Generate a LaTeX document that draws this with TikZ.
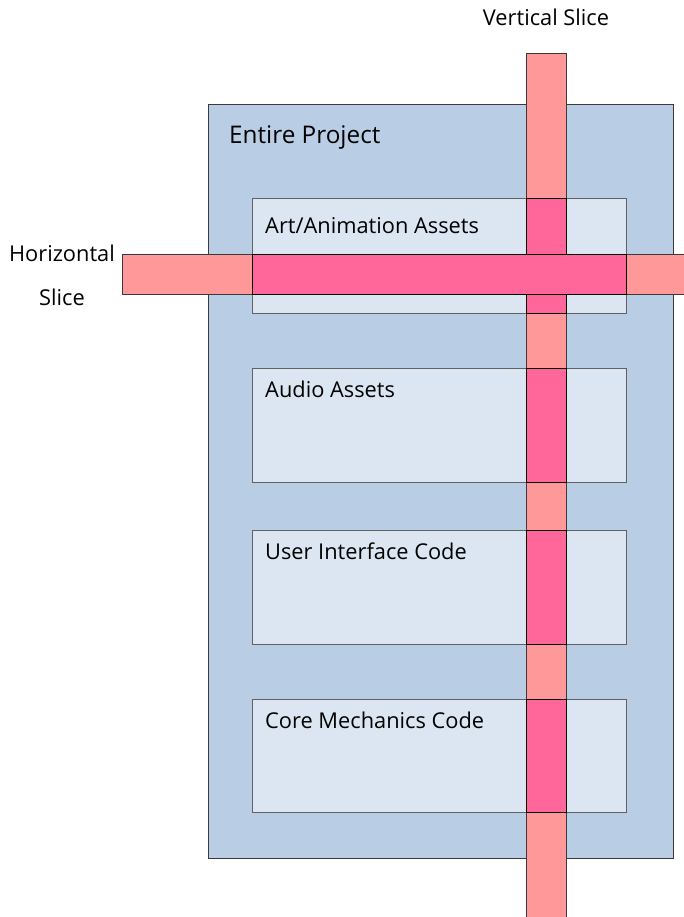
\documentclass[tikz,border=0pt]{standalone}
\usepackage{fontspec}
\setmainfont{Open Sans}
\definecolor{outerblue}{HTML}{B9CDE5}
\definecolor{innerblue}{HTML}{DCE6F2}
\definecolor{salmon}{HTML}{FF9999}
\definecolor{hotpink}{HTML}{FF6699}
\definecolor{edge}{HTML}{3A3A3A}
\tikzset{
  outerbox/.style={draw=edge, fill=outerblue, line width=0.9pt},
  innerbox/.style={draw=edge!80, fill=innerblue, line width=0.9pt},
  slicebar/.style={draw=edge, fill=salmon, line width=0.8pt},
  overlap/.style={draw=black, fill=hotpink, line width=0.8pt},
  lbl/.style={font=\fontsize{21.8}{26}\selectfont, text=black, inner sep=0pt},
}
\begin{document}
\begin{tikzpicture}[x=1pt,y=-1pt]
\useasboundingbox (0,0) rectangle (684,917);
% outer project
\draw[outerbox] (208,104) rectangle (673,858);
\node[lbl, anchor=west, font=\fontsize{24.3}{29}\selectfont] (entire) at (229,138) {Entire Project};
% inner boxes
\draw[innerbox] (252,198) rectangle (626,313);
\draw[innerbox] (252,368) rectangle (626,482);
\draw[innerbox] (252,530) rectangle (626,644);
\draw[innerbox] (252,699) rectangle (626,812);
% vertical slice
\draw[slicebar] (526,53) rectangle (566,920);
\draw[overlap] (526,198) rectangle (566,313);
\draw[overlap] (526,368) rectangle (566,482);
\draw[overlap] (526,530) rectangle (566,644);
\draw[overlap] (526,699) rectangle (566,812);
% horizontal slice
\draw[slicebar] (122,254) rectangle (688,294);
\draw[overlap] (252,254) rectangle (626,294);
% labels
\node[lbl, anchor=west] (art) at (265,226) {Art/Animation Assets};
\node[lbl, anchor=west] (audio) at (265,389) {Audio Assets};
\node[lbl, anchor=west] (ui) at (265,551) {User Interface Code};
\node[lbl, anchor=west] (core) at (265,720) {Core Mechanics Code};
\node[lbl] (vs) at (546,17) {Vertical Slice};
\node[lbl] (hs1) at (62,253) {Horizontal};
\node[lbl] (hs2) at (62,297) {Slice};
\end{tikzpicture}
\end{document}
